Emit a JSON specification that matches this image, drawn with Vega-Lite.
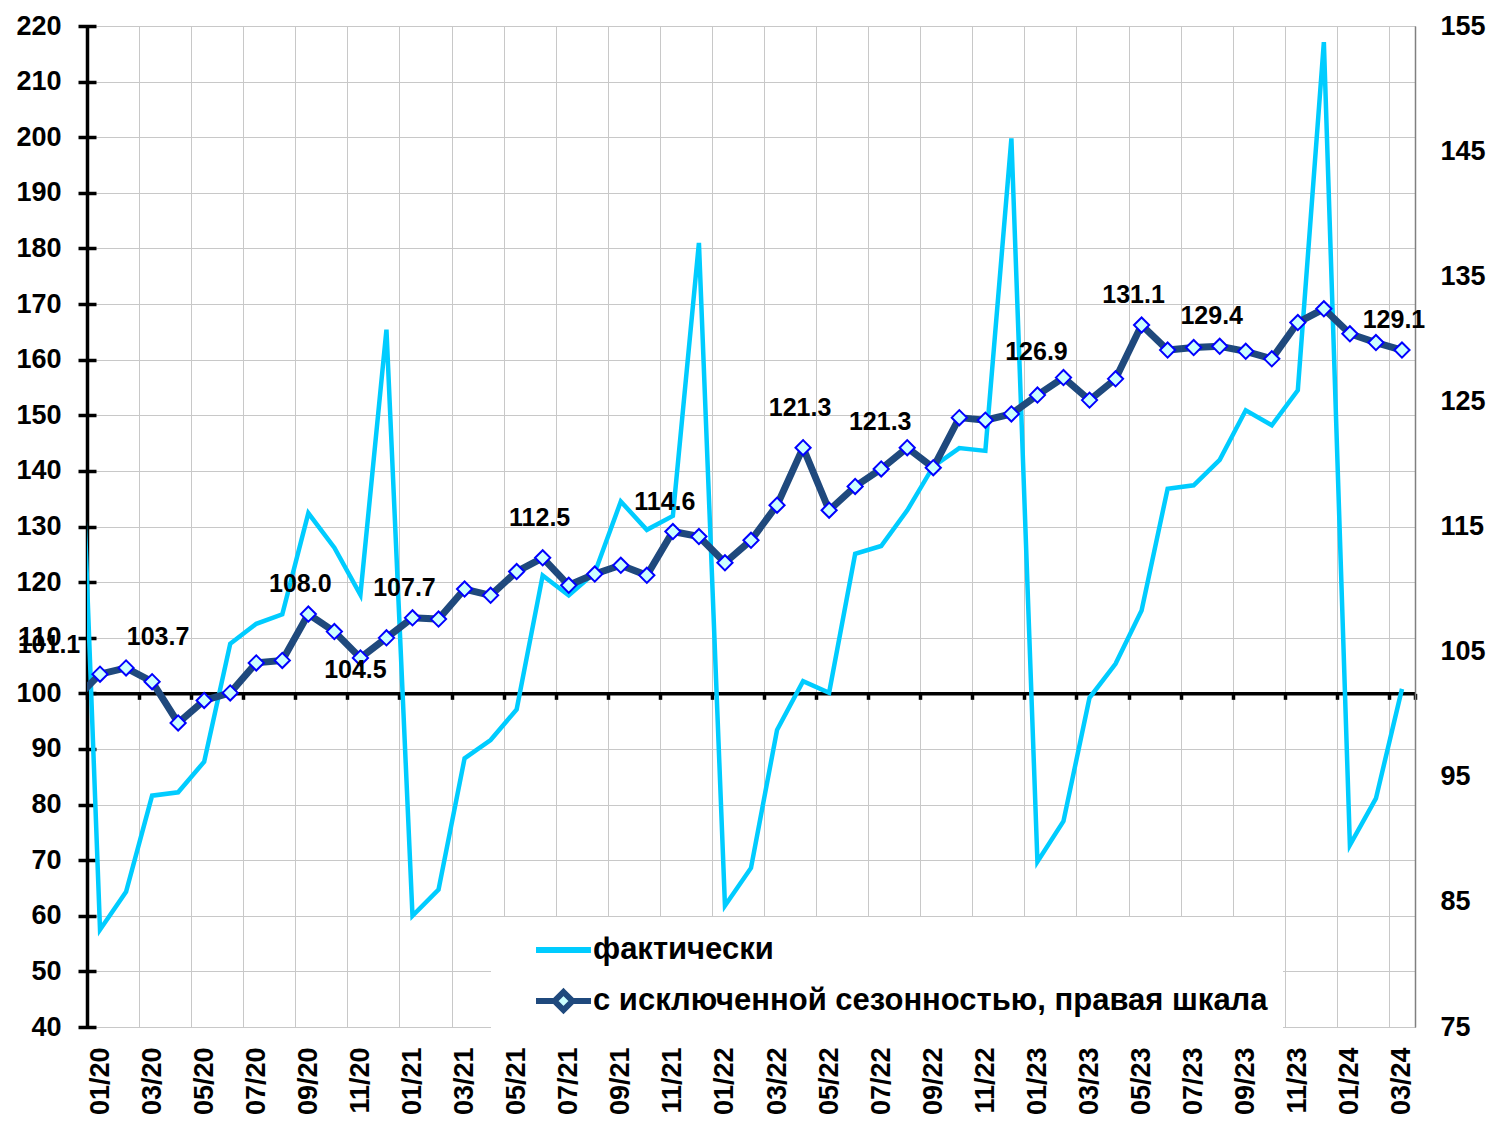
{
  "$schema": "https://vega.github.io/schema/vega-lite/v6.json",
  "width": 1328,
  "height": 1001,
  "autosize": {"type": "none"},
  "padding": {"left": 87, "top": 26, "right": 79, "bottom": 95},
  "background": "white",
  "config": {
    "view": {"stroke": null},
    "font": "Liberation Sans",
    "axis": {"labelFont": "Liberation Sans", "labelFontSize": 27, "labelFontWeight": "bold", "labelColor": "black", "title": null}
  },
  "datasets": {
    "fact": [
      {"month": "12/19", "i": 0, "value": 183.0},
      {"month": "01/20", "i": 1, "value": 57.5},
      {"month": "02/20", "i": 2, "value": 64.3},
      {"month": "03/20", "i": 3, "value": 81.6},
      {"month": "04/20", "i": 4, "value": 82.2},
      {"month": "05/20", "i": 5, "value": 87.7},
      {"month": "06/20", "i": 6, "value": 108.9},
      {"month": "07/20", "i": 7, "value": 112.5},
      {"month": "08/20", "i": 8, "value": 114.2},
      {"month": "09/20", "i": 9, "value": 132.4},
      {"month": "10/20", "i": 10, "value": 126.2},
      {"month": "11/20", "i": 11, "value": 117.7},
      {"month": "12/20", "i": 12, "value": 165.4},
      {"month": "01/21", "i": 13, "value": 60.0},
      {"month": "02/21", "i": 14, "value": 64.7},
      {"month": "03/21", "i": 15, "value": 88.3},
      {"month": "04/21", "i": 16, "value": 91.6},
      {"month": "05/21", "i": 17, "value": 97.1},
      {"month": "06/21", "i": 18, "value": 121.2},
      {"month": "07/21", "i": 19, "value": 117.6},
      {"month": "08/21", "i": 20, "value": 121.7},
      {"month": "09/21", "i": 21, "value": 134.5},
      {"month": "10/21", "i": 22, "value": 129.4},
      {"month": "11/21", "i": 23, "value": 131.9},
      {"month": "12/21", "i": 24, "value": 181.0},
      {"month": "01/22", "i": 25, "value": 61.8},
      {"month": "02/22", "i": 26, "value": 68.6},
      {"month": "03/22", "i": 27, "value": 93.4},
      {"month": "04/22", "i": 28, "value": 102.2},
      {"month": "05/22", "i": 29, "value": 100.1},
      {"month": "06/22", "i": 30, "value": 125.1},
      {"month": "07/22", "i": 31, "value": 126.5},
      {"month": "08/22", "i": 32, "value": 132.9},
      {"month": "09/22", "i": 33, "value": 140.8},
      {"month": "10/22", "i": 34, "value": 144.1},
      {"month": "11/22", "i": 35, "value": 143.6},
      {"month": "12/22", "i": 36, "value": 199.8},
      {"month": "01/23", "i": 37, "value": 69.7},
      {"month": "02/23", "i": 38, "value": 77.0},
      {"month": "03/23", "i": 39, "value": 99.2},
      {"month": "04/23", "i": 40, "value": 105.3},
      {"month": "05/23", "i": 41, "value": 114.9},
      {"month": "06/23", "i": 42, "value": 136.8},
      {"month": "07/23", "i": 43, "value": 137.4},
      {"month": "08/23", "i": 44, "value": 142.0},
      {"month": "09/23", "i": 45, "value": 150.9},
      {"month": "10/23", "i": 46, "value": 148.2},
      {"month": "11/23", "i": 47, "value": 154.5},
      {"month": "12/23", "i": 48, "value": 217.1},
      {"month": "01/24", "i": 49, "value": 72.7},
      {"month": "02/24", "i": 50, "value": 81.1},
      {"month": "03/24", "i": 51, "value": 100.8}
    ],
    "sa": [
      {"month": "12/19", "i": 0, "value": 101.1},
      {"month": "01/20", "i": 1, "value": 103.2},
      {"month": "02/20", "i": 2, "value": 103.7},
      {"month": "03/20", "i": 3, "value": 102.6},
      {"month": "04/20", "i": 4, "value": 99.3},
      {"month": "05/20", "i": 5, "value": 101.1},
      {"month": "06/20", "i": 6, "value": 101.7},
      {"month": "07/20", "i": 7, "value": 104.1},
      {"month": "08/20", "i": 8, "value": 104.3},
      {"month": "09/20", "i": 9, "value": 108.0},
      {"month": "10/20", "i": 10, "value": 106.6},
      {"month": "11/20", "i": 11, "value": 104.5},
      {"month": "12/20", "i": 12, "value": 106.1},
      {"month": "01/21", "i": 13, "value": 107.7},
      {"month": "02/21", "i": 14, "value": 107.6},
      {"month": "03/21", "i": 15, "value": 110.0},
      {"month": "04/21", "i": 16, "value": 109.5},
      {"month": "05/21", "i": 17, "value": 111.4},
      {"month": "06/21", "i": 18, "value": 112.5},
      {"month": "07/21", "i": 19, "value": 110.3},
      {"month": "08/21", "i": 20, "value": 111.2},
      {"month": "09/21", "i": 21, "value": 111.9},
      {"month": "10/21", "i": 22, "value": 111.1},
      {"month": "11/21", "i": 23, "value": 114.6},
      {"month": "12/21", "i": 24, "value": 114.2},
      {"month": "01/22", "i": 25, "value": 112.1},
      {"month": "02/22", "i": 26, "value": 113.9},
      {"month": "03/22", "i": 27, "value": 116.7},
      {"month": "04/22", "i": 28, "value": 121.3},
      {"month": "05/22", "i": 29, "value": 116.3},
      {"month": "06/22", "i": 30, "value": 118.2},
      {"month": "07/22", "i": 31, "value": 119.6},
      {"month": "08/22", "i": 32, "value": 121.3},
      {"month": "09/22", "i": 33, "value": 119.7},
      {"month": "10/22", "i": 34, "value": 123.7},
      {"month": "11/22", "i": 35, "value": 123.5},
      {"month": "12/22", "i": 36, "value": 124.0},
      {"month": "01/23", "i": 37, "value": 125.5},
      {"month": "02/23", "i": 38, "value": 126.9},
      {"month": "03/23", "i": 39, "value": 125.1},
      {"month": "04/23", "i": 40, "value": 126.8},
      {"month": "05/23", "i": 41, "value": 131.1},
      {"month": "06/23", "i": 42, "value": 129.1},
      {"month": "07/23", "i": 43, "value": 129.3},
      {"month": "08/23", "i": 44, "value": 129.4},
      {"month": "09/23", "i": 45, "value": 129.0},
      {"month": "10/23", "i": 46, "value": 128.4},
      {"month": "11/23", "i": 47, "value": 131.3},
      {"month": "12/23", "i": 48, "value": 132.4},
      {"month": "01/24", "i": 49, "value": 130.4},
      {"month": "02/24", "i": 50, "value": 129.7},
      {"month": "03/24", "i": 51, "value": 129.1}
    ]
  },
  "layer": [
    {
      "data": {"name": "fact"},
      "encoding": {
        "x": {
          "field": "i", "type": "quantitative",
          "scale": {"domain": [0.5, 51.5], "nice": false, "zero": false},
          "axis": {
            "orient": "bottom", "offset": -333.67,
            "values": [0.5, 2.5, 4.5, 6.5, 8.5, 10.5, 12.5, 14.5, 16.5, 18.5, 20.5, 22.5, 24.5, 26.5, 28.5, 30.5, 32.5, 34.5, 36.5, 38.5, 40.5, 42.5, 44.5, 46.5, 48.5, 50.5, 51.5],
            "labels": false, "grid": false,
            "domain": true, "domainColor": "black", "domainWidth": 3.5,
            "ticks": true, "tickColor": "black", "tickWidth": 3.5, "tickSize": 6,
            "title": null
          }
        },
        "y": {
          "field": "value", "type": "quantitative",
          "scale": {"domain": [40, 220], "nice": false, "zero": false},
          "axis": {
            "orient": "left",
            "values": [40, 50, 60, 70, 80, 90, 100, 110, 120, 130, 140, 150, 160, 170, 180, 190, 200, 210, 220],
            "offset": -9, "domain": false,
            "ticks": true, "tickSize": 18, "tickWidth": 3.5, "tickColor": "black",
            "labelPadding": 17,
            "grid": true, "gridColor": "#C8C8C8", "gridWidth": 1,
            "title": null
          }
        }
      },
      "layer": [
        {"mark": {"type": "line", "color": "#00CCFF", "strokeWidth": 4.5, "clip": true}, "encoding": {}}
      ]
    },
    {
      "data": {"name": "sa"},
      "encoding": {
        "x": {
          "field": "i", "type": "quantitative",
          "scale": {"domain": [0.5, 51.5], "nice": false, "zero": false},
          "axis": {
            "orient": "bottom",
            "values": [0.5, 1, 2.5, 3, 4.5, 5, 6.5, 7, 8.5, 9, 10.5, 11, 12.5, 13, 14.5, 15, 16.5, 17, 18.5, 19, 20.5, 21, 22.5, 23, 24.5, 25, 26.5, 27, 28.5, 29, 30.5, 31, 32.5, 33, 34.5, 35, 36.5, 37, 38.5, 39, 40.5, 41, 42.5, 43, 44.5, 45, 46.5, 47, 48.5, 49, 50.5, 51, 51.5],
            "labelExpr": "datum.value % 1 != 0 ? '' : (((datum.value - 1) % 12 < 9 ? '0' : '') + ((datum.value - 1) % 12 + 1) + '/' + (20 + floor((datum.value - 1) / 12)))",
            "labelAngle": 270, "labelPadding": 20,
            "domain": false, "ticks": false, "tickSize": 0,
            "grid": true,
            "gridColor": {"condition": [{"test": "datum.value == 0.5", "value": "black"}, {"test": "datum.value == 51.5", "value": "#808080"}], "value": "#C8C8C8"},
            "gridWidth": {"condition": {"test": "datum.value == 0.5", "value": 3.5}, "value": 1},
            "gridOpacity": {"condition": {"test": "datum.value % 1 == 0", "value": 0}, "value": 1},
            "title": null
          }
        },
        "y": {
          "field": "value", "type": "quantitative",
          "scale": {"domain": [75, 155], "nice": false, "zero": false},
          "axis": {
            "orient": "right",
            "values": [75, 85, 95, 105, 115, 125, 135, 145, 155],
            "domain": true, "domainColor": "#808080", "domainWidth": 1.5,
            "ticks": false, "tickSize": 0, "labelPadding": 25,
            "grid": false, "title": null
          }
        }
      },
      "layer": [
        {"mark": {"type": "line", "color": "#1F497D", "strokeWidth": 7, "clip": true}, "encoding": {}},
        {"mark": {"type": "point", "shape": "diamond", "filled": true, "fill": "#CCFFFF", "stroke": "#0000FF", "strokeWidth": 2, "size": 230, "opacity": 1, "clip": true}},
        {
          "mark": {"type": "point", "filled": true, "fill": "#CCFFFF", "opacity": 0, "clip": true},
          "encoding": {
            "stroke": {
              "datum": "с исключенной сезонностью, правая шкала", "type": "nominal",
              "scale": {"domain": ["фактически", "с исключенной сезонностью, правая шкала"], "range": ["#00CCFF", "#1F497D"]},
              "legend": {
                "title": null, "orient": "none", "legendX": 404, "legendY": 891, "direction": "vertical",
                "fillColor": "white", "padding": 15, "symbolOffset": 39.5, "symbolSize": 900, "symbolStrokeWidth": 6,
                "labelFont": "Liberation Sans", "labelFontSize": 31, "labelFontWeight": "bold", "labelColor": "black",
                "labelLimit": 1200, "labelOffset": 11.5, "rowPadding": 15
              }
            },
            "shape": {
              "datum": "с исключенной сезонностью, правая шкала", "type": "nominal",
              "scale": {"domain": ["фактически", "с исключенной сезонностью, правая шкала"], "range": ["M-1.833,0H1.833", "M-1.833,0H-0.6M0.6,0H1.833M0,-0.6L0.6,0L0,0.6L-0.6,0Z"]},
              "legend": {
                "title": null, "orient": "none", "legendX": 404, "legendY": 891, "direction": "vertical",
                "fillColor": "white", "padding": 15, "symbolOffset": 39.5, "symbolSize": 900, "symbolStrokeWidth": 6,
                "labelFont": "Liberation Sans", "labelFontSize": 31, "labelFontWeight": "bold", "labelColor": "black",
                "labelLimit": 1200, "labelOffset": 11.5, "rowPadding": 15
              }
            }
          }
        },
        {
          "transform": [{"filter": {"field": "month", "oneOf": ["09/20", "01/21", "11/21", "05/23", "08/23", "03/24"]}}],
          "mark": {"type": "text", "fontSize": 25, "fontWeight": "bold", "font": "Liberation Sans", "color": "black", "align": "center", "baseline": "middle", "dx": -8, "dy": -30},
          "encoding": {"text": {"field": "value", "type": "quantitative", "format": ".1f"}}
        },
        {
          "transform": [{"filter": {"field": "month", "oneOf": ["06/21", "04/22"]}}],
          "mark": {"type": "text", "fontSize": 25, "fontWeight": "bold", "font": "Liberation Sans", "color": "black", "align": "center", "baseline": "middle", "dx": -3, "dy": -40},
          "encoding": {"text": {"field": "value", "type": "quantitative", "format": ".1f"}}
        },
        {
          "transform": [{"filter": {"field": "month", "oneOf": ["08/22", "02/23"]}}],
          "mark": {"type": "text", "fontSize": 25, "fontWeight": "bold", "font": "Liberation Sans", "color": "black", "align": "center", "baseline": "middle", "dx": -27, "dy": -26},
          "encoding": {"text": {"field": "value", "type": "quantitative", "format": ".1f"}}
        },
        {
          "transform": [{"filter": {"field": "month", "equal": "02/20"}}],
          "mark": {"type": "text", "fontSize": 25, "fontWeight": "bold", "font": "Liberation Sans", "color": "black", "align": "center", "baseline": "middle", "dx": 32, "dy": -31},
          "encoding": {"text": {"field": "value", "type": "quantitative", "format": ".1f"}}
        },
        {
          "transform": [{"filter": {"field": "month", "equal": "11/20"}}],
          "mark": {"type": "text", "fontSize": 25, "fontWeight": "bold", "font": "Liberation Sans", "color": "black", "align": "center", "baseline": "middle", "dx": -5, "dy": 12},
          "encoding": {"text": {"field": "value", "type": "quantitative", "format": ".1f"}}
        },
        {
          "transform": [{"filter": {"field": "month", "equal": "12/19"}}],
          "mark": {"type": "text", "fontSize": 25, "fontWeight": "bold", "font": "Liberation Sans", "color": "black", "align": "center", "baseline": "middle", "dx": -25, "dy": -55},
          "encoding": {"text": {"field": "value", "type": "quantitative", "format": ".1f"}}
        }
      ]
    }
  ],
  "resolve": {"scale": {"x": "independent", "y": "independent"}}
}
